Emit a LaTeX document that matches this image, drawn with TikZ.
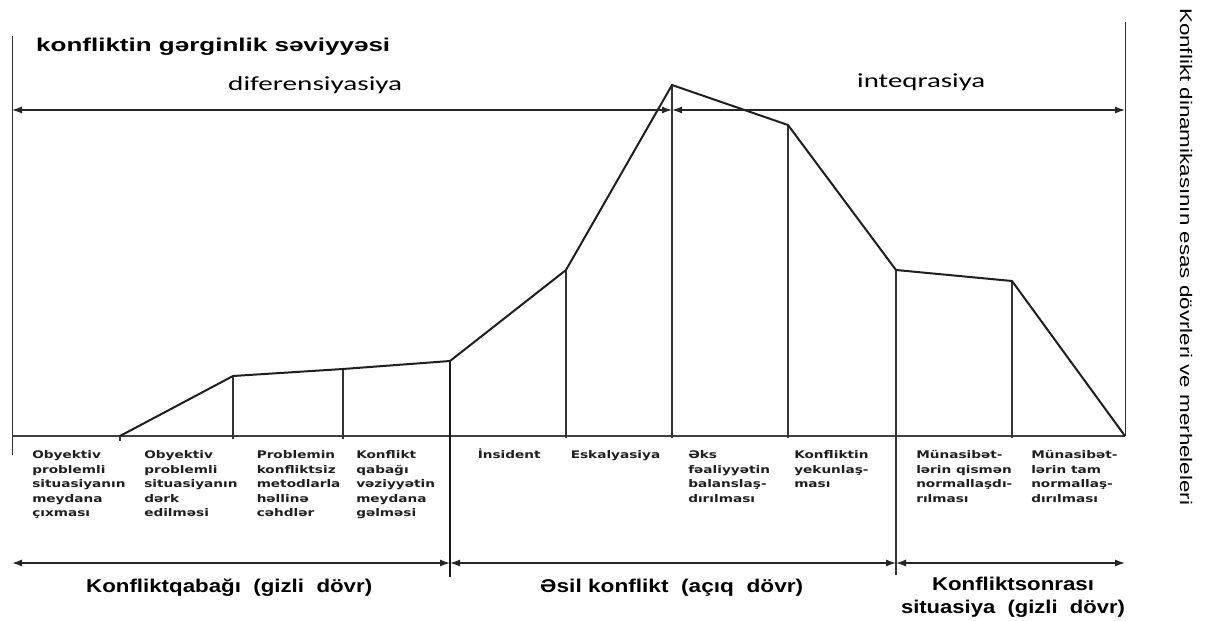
\documentclass[tikz,border=0pt]{standalone}
\usepackage{fontspec}
\usepackage{graphicx}
\setmainfont{Liberation Sans}
\newfontfamily\labfamily{DejaVu Sans}
\newfontfamily\calfamily{Carlito}
\usetikzlibrary{arrows.meta}
\newcommand\fitw[2]{\resizebox{#1}{\height}{#2}}
\newcommand\fst{\rule{0pt}{10pt}}
\begin{document}
\begin{tikzpicture}[x=1pt,y=-1pt,
  lab/.style={anchor=north west, inner sep=0pt, align=left, xscale=1.3,
    font=\labfamily\bfseries\fontsize{10.5}{14.4}\selectfont, text=black!88},
  arr/.style={{Latex[length=10pt,width=7pt]}-{Latex[length=10pt,width=7pt]}, line width=1.3pt, draw=black!85},
  curve/.style={line width=2pt, draw=black!88, line join=miter},
  vline/.style={line width=1.2pt, draw=black!80},
  axis/.style={line width=1pt, draw=black!80},
  btm/.style={anchor=base west, inner sep=0pt, font=\bfseries\fontsize{18.5}{22}\selectfont},
  cal/.style={anchor=base west, inner sep=0pt, font=\calfamily\fontsize{20}{24}\selectfont}]
\useasboundingbox (0,0) rectangle (1213,621);
\fill[white] (0,0) rectangle (1213,621);

% coordinates
\coordinate (axtop) at (12,36);
\coordinate (axbot) at (12,455);
\coordinate (basel) at (12,436);
\coordinate (baser) at (1125,436);
\coordinate (rtop) at (1125,22);
\coordinate (c0) at (120,436);
\coordinate (c1) at (233,376);
\coordinate (c2) at (343,369);
\coordinate (c3) at (450,361);
\coordinate (c4) at (566,270);
\coordinate (c5) at (672,85);
\coordinate (c6) at (788,125);
\coordinate (c7) at (896,270);
\coordinate (c8) at (1012,281);
\coordinate (c9) at (1125,436);
\coordinate (t0) at (120,441);
\coordinate (b1) at (233,439);
\coordinate (b2) at (343,439);
\coordinate (b3) at (450,577);
\coordinate (b4) at (566,438);
\coordinate (b5) at (672,438);
\coordinate (b6) at (788,438);
\coordinate (b7) at (896,575);
\coordinate (b8) at (1012,438);
\coordinate (tl) at (12,110);
\coordinate (tm) at (672,110);
\coordinate (tr) at (1125,110);
\coordinate (bl) at (12,563);
\coordinate (bm1) at (450,563);
\coordinate (bm2) at (896,563);
\coordinate (br) at (1125,563);

% axes and frame lines
\draw[axis] (axtop) -- (axbot);
\draw[line width=1.5pt, draw=black!75] (basel) -- (baser);
\draw[axis] (rtop) -- (c9);

% verticals
\draw[vline] (c0) -- (t0);
\draw[vline] (c1) -- (b1);
\draw[vline] (c2) -- (b2);
\draw[line width=2.4pt, draw=black!90] (c3) -- (b3);
\draw[vline] (c4) -- (b4);
\draw[vline] (c5) -- (b5);
\draw[vline] (c6) -- (b6);
\draw[vline] (c7) -- (b7);
\draw[vline] (c8) -- (b8);

% curve
\draw[curve] (c0) -- (c1) -- (c2) -- (c3) -- (c4) -- (c5) -- (c6) -- (c7) -- (c8) -- (c9);

% arrows
\draw[arr] (tl) -- (tm);
\draw[arr] (tm) -- (tr);
\draw[arr] (bl) -- (bm1);
\draw[arr] (bm1) -- (bm2);
\draw[arr] (bm2) -- (br);

% texts
\node[anchor=base west, inner sep=0pt, font=\bfseries\fontsize{18.6}{22}\selectfont] (title) at (36,51) {\fitw{354pt}{konfliktin gərginlik səviyyəsi}};
\node[cal] (dif) at (228,90) {\fitw{174pt}{diferensiyasiya}};
\node[cal] (inteq) at (857,87) {\fitw{128pt}{inteqrasiya}};

\node[lab] (l1) at (32,448.7) {\fst Obyektiv\\problemli\\situasiyanın\\meydana\\çıxması};
\node[lab] (l2) at (144,448.7) {\fst Obyektiv\\problemli\\situasiyanın\\dərk\\edilməsi};
\node[lab] (l3) at (256.5,448.7) {\fst Problemin\\konfliktsiz\\metodlarla\\həllinə\\cəhdlər};
\node[lab] (l4) at (356,448.7) {\fst Konflikt\\qabağı\\vəziyyətin\\meydana\\gəlməsi};
\node[lab] (l5) at (477.5,448.7) {\fst İnsident};
\node[lab] (l6) at (570.5,448.7) {\fst Eskalyasiya};
\node[lab] (l7) at (688,448.7) {\fst Əks\\fəaliyyətin\\balanslaş-\\dırılması};
\node[lab] (l8) at (794,448.7) {\fst Konfliktin\\yekunlaş-\\ması};
\node[lab] (l9) at (916,448.7) {\fst Münasibət-\\lərin qismən\\normallaşdı-\\rılması};
\node[lab] (l10) at (1031,448.7) {\fst Münasibət-\\lərin tam\\normallaş-\\dırılması};

\node[btm] (p1) at (86,592) {\fitw{286pt}{Konfliktqabağı\ \ (gizli\ \ dövr)}};
\node[btm] (p2) at (540,592) {\fitw{263pt}{Əsil konflikt\ \ (açıq\ \ dövr)}};
\node[btm, anchor=base] (p3a) at (1013,590) {\fitw{162pt}{Konfliktsonrası}};
\node[btm, anchor=base] (p3b) at (1013,613) {\fitw{224pt}{situasiya\ \ (gizli\ \ dövr)}};

\node[rotate=-90, anchor=base west, inner sep=0pt, font=\fontsize{16.8}{20}\selectfont] (side) at (1180,8) {\fitw{497pt}{Konflikt dinamikasının esas dövrleri ve merheleleri}};
\end{tikzpicture}
\end{document}
